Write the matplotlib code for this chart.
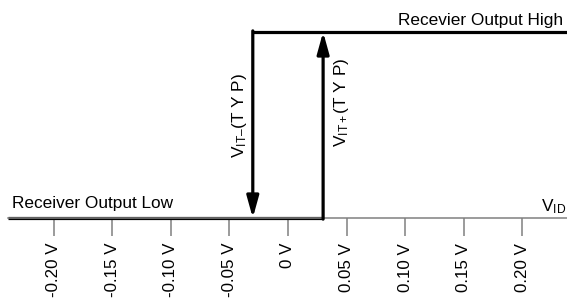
import matplotlib
matplotlib.use("Agg")
import matplotlib.pyplot as plt

plt.rcParams['font.family'] = ['Liberation Sans', 'DejaVu Sans']
plt.rcParams['mathtext.fontset'] = 'custom'
plt.rcParams['mathtext.rm'] = 'Liberation Sans'
plt.rcParams['mathtext.it'] = 'Liberation Sans'

# data
tick_values = [-0.20, -0.15, -0.10, -0.05, 0.0, 0.05, 0.10, 0.15, 0.20]
tick_labels = ["-0.20 V", "-0.15 V", "-0.10 V", "-0.05 V", "0 V", "0.05 V", "0.10 V", "0.15 V", "0.20 V"]
v_it_minus = -0.03
v_it_plus = 0.03
low_level = 0.0
high_level = 1.0
x_left = -0.239
x_right = 0.245

fs = 12.4
fig = plt.figure(figsize=(5.67, 2.99), dpi=100)
ax = fig.add_axes([0, 0, 1, 1])
ax.set_xlim(-0.2457, 0.2381)
ax.set_ylim(-0.4355, 1.172)

for s in ['top', 'right', 'left']:
    ax.spines[s].set_visible(False)
ax.spines['bottom'].set_position(('data', low_level))
ax.spines['bottom'].set_color('#808080')
ax.spines['bottom'].set_linewidth(1.1)
ax.spines['bottom'].set_bounds(x_left, x_right)
ax.set_yticks([])
ax.set_xticks(tick_values)
ax.set_xticklabels(tick_labels, rotation=90, fontsize=12.2, va='top', ha='center')
ax.tick_params(axis='x', direction='out', length=13, width=1.1, color='#808080', pad=5)

lw = 2.3
# low output segment
ax.plot([x_left, v_it_plus], [low_level, low_level], color='black', lw=lw, solid_capstyle='butt')
# high output segment
ax.plot([v_it_minus, x_right], [high_level, high_level], color='black', lw=lw, solid_capstyle='butt')

ap = dict(arrowstyle='-|>,head_length=1.3,head_width=0.36', mutation_scale=10,
          lw=lw, color='black', shrinkA=0, shrinkB=0)
ax.annotate('', xy=(v_it_minus, low_level), xytext=(v_it_minus, high_level + 0.006), arrowprops=ap)
ax.annotate('', xy=(v_it_plus, high_level), xytext=(v_it_plus, low_level - 0.006), arrowprops=ap)

ax.text(-0.2358, low_level + 0.035, "Receiver Output Low", fontsize=fs, ha='left', va='bottom')
ax.text(0.2345, high_level + 0.02, "Recevier Output High", fontsize=fs, ha='right', va='bottom')
ax.text(0.2375, low_level + 0.012, r"V$_{\mathrm{ID}}$", fontsize=fs, ha='right', va='bottom')

ax.text(-0.041, 0.55, "V$_{\\mathrm{IT\u2013}}$(T Y P)", fontsize=fs, rotation=90, ha='center', va='center')
ax.text(0.046, 0.62, "V$_{\\mathrm{IT+}}$(T Y P)", fontsize=fs, rotation=90, ha='center', va='center')

fig.savefig("out.png", dpi=100)
